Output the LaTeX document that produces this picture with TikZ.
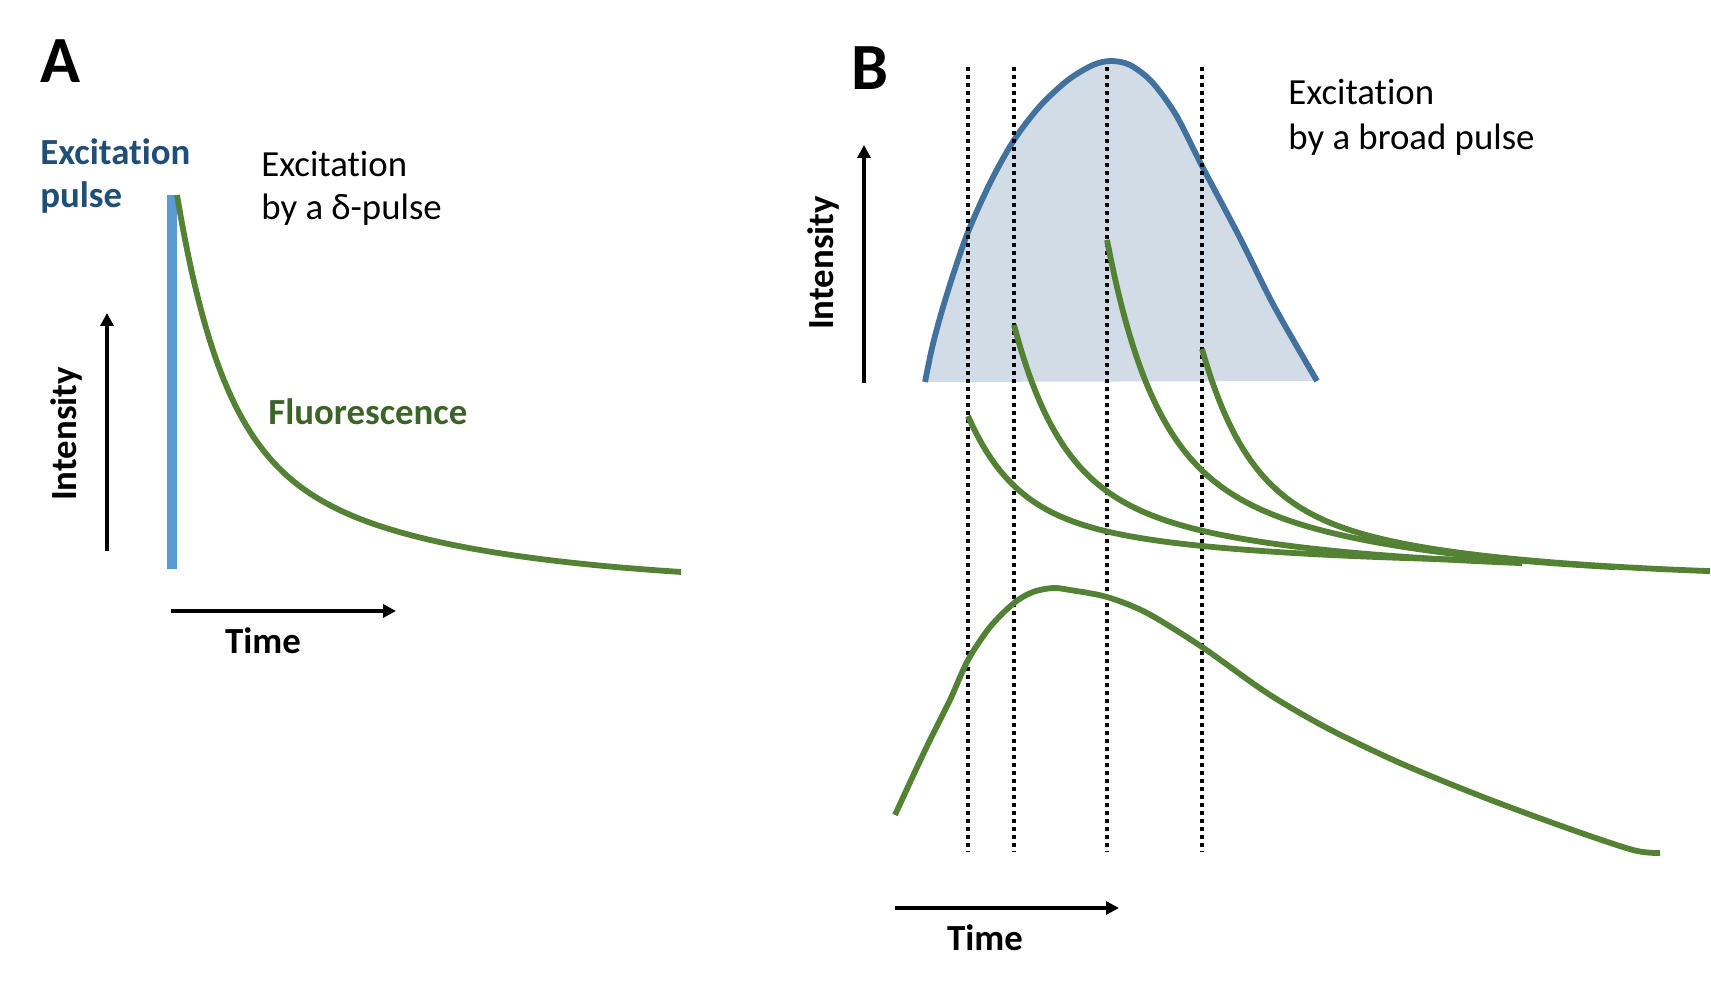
\documentclass[tikz,border=0pt]{standalone}
\usepackage{fontspec}
\setmainfont{Carlito}[Ligatures=NoCommon]
\usetikzlibrary{arrows.meta}
\definecolor{grn}{HTML}{548235}
\definecolor{grntext}{HTML}{3D6428}
\definecolor{darkblue}{HTML}{1F4E79}
\definecolor{barblue}{HTML}{5B9BD5}
\definecolor{pulseline}{HTML}{41719C}
\definecolor{pulsefill}{HTML}{D1DCE6}
\newcommand{\decaycurve}[4]{% x0, yend, height, tmax
  \draw[decay] plot[domain=0:#4, samples=140, variable=\t]
    ({#1+\t},{#2-#3*((0.6205*exp(-\t/45.7)+0.3795*exp(-\t/211))-0.0347)/0.9653});}
\begin{document}
\begin{tikzpicture}[x=0.5pt,y=-0.5pt,
  txt/.style={inner sep=0pt, anchor=base west, font=\fontsize{18.4}{22}\selectfont},
  btxt/.style={inner sep=0pt, font=\fontsize{18.4}{22}\selectfont\bfseries},
  panel/.style={inner sep=0pt, anchor=base west, font=\fontsize{33}{36}\selectfont\bfseries},
  decay/.style={draw=grn, line width=2.9pt},
  axisarrow/.style={line width=1.7pt, -{Triangle[length=6.5pt,width=6.5pt]}},
  dotline/.style={line width=1.8pt, dash pattern=on 2pt off 2pt}]
\useasboundingbox (0,0) rectangle (1711,983);

% ---------------- Panel A ----------------
\node[panel] (labA) at (40,83) {A};
\node[btxt, anchor=base west, text=darkblue] (expA1) at (40,165) {Excitation};
\node[btxt, anchor=base west, text=darkblue] (expA2) at (40,208) {pulse};
\node[txt] (exA1) at (261,177) {Excitation};
\node[txt] (exA2) at (261,220) {by a δ-pulse};
\node[btxt, anchor=base west, text=grntext] (fluo) at (268,425) {Fluorescence};

\fill[barblue] (167,195) rectangle (177,569);
\decaycurve{177}{572}{377}{504}

\coordinate (iA0) at (107,551);
\coordinate (iA1) at (107,313);
\draw[axisarrow] (iA0) -- (iA1);
\node[btxt, rotate=90, anchor=base] (intA) at (76,434) {Intensity};

\coordinate (tA0) at (171,611);
\coordinate (tA1) at (396,611);
\draw[axisarrow] (tA0) -- (tA1);
\node[btxt, anchor=base] (timeA) at (263,653) {Time};

% ---------------- Panel B ----------------
\node[panel] (labB) at (851,90) {B};
\node[txt] (exB1) at (1288,105) {Excitation};
\node[txt] (exB2) at (1288,150) {by a broad pulse};

\fill[pulsefill] plot[smooth] coordinates {(925,382) (932,348) (941,314) (953,275) (968,232) (990,183) (1014,140) (1040,106) (1068,80) (1093,65) (1111,61) (1130,65) (1152,82) (1176,115) (1202,166) (1240,238) (1274,306) (1317,381)} -- cycle;
\draw[pulseline, line width=2.9pt] plot[smooth] coordinates {(925,382) (932,348) (941,314) (953,275) (968,232) (990,183) (1014,140) (1040,106) (1068,80) (1093,65) (1111,61) (1130,65) (1152,82) (1176,115) (1202,166) (1240,238) (1274,306) (1317,381)};

\foreach \xx [count=\i] in {968,1014,1107,1202}{
  \coordinate (d\i t) at (\xx,67);
  \coordinate (d\i b) at (\xx,852);
  \draw[dotline] (d\i t) -- (d\i b);
}

\decaycurve{968}{560}{144}{507}
\decaycurve{1014}{563}{238}{508}
\decaycurve{1107}{567}{327}{508}
\decaycurve{1202}{571}{222}{508}

\draw[decay] plot[smooth] coordinates {(895,815) (912,778) (930,740) (950,700) (968,660) (990,627) (1014,603) (1033,592) (1053,588) (1070,590) (1107,597) (1147,613) (1202,647) (1267,693) (1327,728) (1400,763) (1483,797) (1567,828) (1633,850) (1660,853)};

\coordinate (iB0) at (864,383);
\coordinate (iB1) at (864,145);
\draw[axisarrow] (iB0) -- (iB1);
\node[btxt, rotate=90, anchor=base] (intB) at (833,263) {Intensity};

\coordinate (tB0) at (895,908);
\coordinate (tB1) at (1119,908);
\draw[axisarrow] (tB0) -- (tB1);
\node[btxt, anchor=base] (timeB) at (985,950) {Time};
\end{tikzpicture}
\end{document}
